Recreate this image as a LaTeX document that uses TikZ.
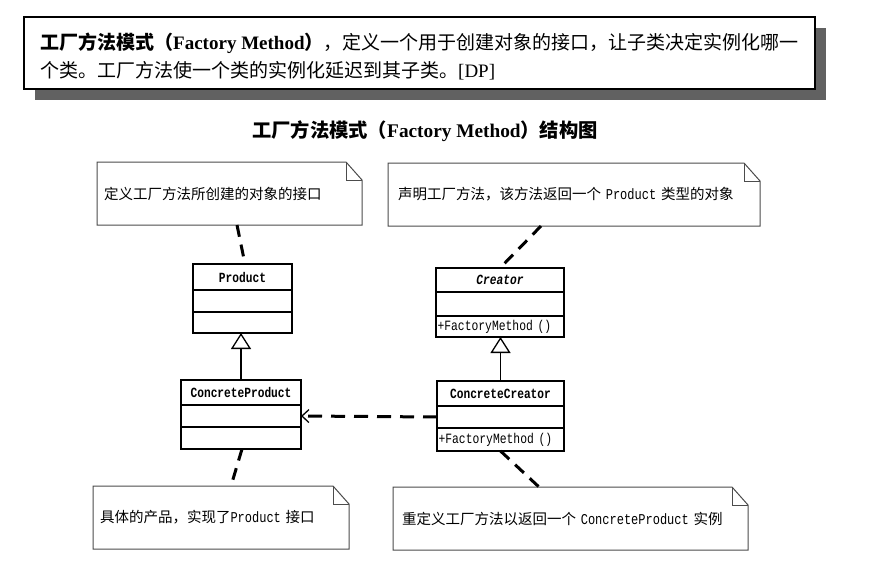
\documentclass[tikz,border=0pt]{standalone}
\usepackage{fontspec}
\newfontfamily\cjk{Noto Sans CJK SC}
\newfontfamily\tms{Liberation Serif}
\newfontfamily\mono{Liberation Mono}[FakeStretch=0.8]
\usetikzlibrary{arrows.meta,positioning}
\tikzset{
  sect/.style={draw, line width=1.4pt, outer sep=0pt, inner sep=0pt, minimum width=#1},
  clsname/.style={font=\mono\bfseries\fontsize{14}{16}\selectfont},
  clsnamei/.style={font=\mono\bfseries\itshape\fontsize{14}{16}\selectfont},
  clsops/.style={font=\mono\fontsize{14.2}{16}\selectfont, align=left, inner xsep=1.5pt},
  note/.style={outer sep=0pt, inner ysep=0pt, minimum height=63pt, align=left,
    font=\cjk\fontsize{14.5}{17}\selectfont},
  noteborder/.style={draw=black!70, line width=1pt, line join=miter},
  noteline/.style={line width=3pt, dash pattern=on 12pt off 8pt},
  dep/.style={line width=3pt, dash pattern=on 14pt off 9pt,
    -{Straight Barb[length=7pt,width=13pt,line width=1.3pt]}},
  inh/.style={line width=1.1pt, -{Triangle[open,length=16pt,width=20pt,line width=1.3pt]}},
  defbox/.style={draw, line width=1.4pt, fill=white, outer sep=0pt, inner sep=0pt},
  shadowc/.style={fill=black!62},
}
\newcommand\dogear[1]{%
  \draw[noteborder] (#1.north west) -- ([xshift=-16pt]#1.north east)
    -- ([yshift=-18pt]#1.north east) -- (#1.south east) -- (#1.south west) -- cycle;
  \draw[noteborder] ([xshift=-16pt]#1.north east) |- ([yshift=-18pt]#1.north east);}
\newcommand\lm[1]{{\mono\fontsize{15}{17}\selectfont #1}}
\begin{document}
\begin{tikzpicture}[x=1pt,y=-1pt]
\useasboundingbox[fill=white] (0,0) rectangle (870,567);

% definition box with shadow
\coordinate (dnw) at (24,17);
\coordinate (dse) at (815,89);
\fill[shadowc] ([shift={(11,11)}]dnw) rectangle ([shift={(11,11)}]dse);
\node[defbox, minimum width=791pt, minimum height=72pt] (def) at (419.5,53) {};
\node[anchor=base west, inner sep=0pt, font=\cjk\fontsize{19}{23}\selectfont] (l1) at (40,49.2)
  {{\bfseries 工厂方法模式（{\tms Factory Method}）}，定义一个用于创建对象的接口，让子类决定实例化哪一};
\node[anchor=base west, inner sep=0pt, font=\cjk\fontsize{19}{23}\selectfont] (l2) at (40,77.2)
  {个类。工厂方法使一个类的实例化延迟到其子类。{\tms [DP]}};

% title
\node[anchor=base, inner sep=0pt, font=\cjk\bfseries\fontsize{19.3}{22}\selectfont] (title) at (425,137.4)
  {工厂方法模式（{\tms Factory Method}）结构图};

% notes
\node[note, inner xsep=7pt, text width=251pt] (n1) at (229.5,193.5) {定义工厂方法所创建的对象的接口};
\dogear{n1}
\node[note, inner xsep=10pt, text width=352pt] (n2) at (574,194.5) {声明工厂方法，该方法返回一个 \lm{Product} 类型的对象};
\dogear{n2}
\node[note, inner xsep=7pt, text width=242pt] (n3) at (221,517.5) {具体的产品，实现了\lm{Product} 接口};
\dogear{n3}
\node[note, inner xsep=9pt, text width=337pt] (n4) at (570.5,518.5) {重定义工厂方法以返回一个 \lm{ConcreteProduct} 实例};
\dogear{n4}

% Product
\node[sect=99pt, minimum height=26pt, clsname] (p1) at (242.5,277) {Product};
\node[sect=99pt, minimum height=22pt, below=0pt of p1] (p2) {};
\node[sect=99pt, minimum height=21pt, below=0pt of p2] (p3) {};

% Creator
\node[sect=128pt, minimum height=24pt, clsnamei] (c1) at (500,280) {Creator};
\node[sect=128pt, minimum height=24pt, below=0pt of c1] (c2) {};
\node[sect=128pt, minimum height=21pt, below=0pt of c2, clsops, text width=125pt] (c3) {+FactoryMethod ()};

% ConcreteProduct
\node[sect=120pt, minimum height=25pt, clsname] (cp1) at (241,392.5) {ConcreteProduct};
\node[sect=120pt, minimum height=22pt, below=0pt of cp1] (cp2) {};
\node[sect=120pt, minimum height=22pt, below=0pt of cp2] (cp3) {};

% ConcreteCreator
\node[sect=127pt, minimum height=25pt, clsname] (cc1) at (500.5,393.5) {ConcreteCreator};
\node[sect=127pt, minimum height=22pt, below=0pt of cc1] (cc2) {};
\node[sect=127pt, minimum height=23pt, below=0pt of cc2, clsops, text width=124pt] (cc3) {+FactoryMethod ()};

% connectors
\draw[inh] (cp1.north) -- (cp1.north |- p3.south);
\draw[inh] (cc1.north) -- (cc1.north |- c3.south);
\draw[dep] (cc2.west) -- (cp2.east);
\draw[noteline] ([xshift=7.5pt]n1.south) -- ([xshift=2.5pt]p1.north);
\draw[noteline] ([xshift=-33pt]n2.south) -- (c1.north);
\draw[noteline] ([xshift=1pt]cp3.south) -- ([xshift=10pt]n3.north);
\draw[noteline] (cc3.south) -- ([xshift=-31.5pt]n4.north);
\end{tikzpicture}
\end{document}
